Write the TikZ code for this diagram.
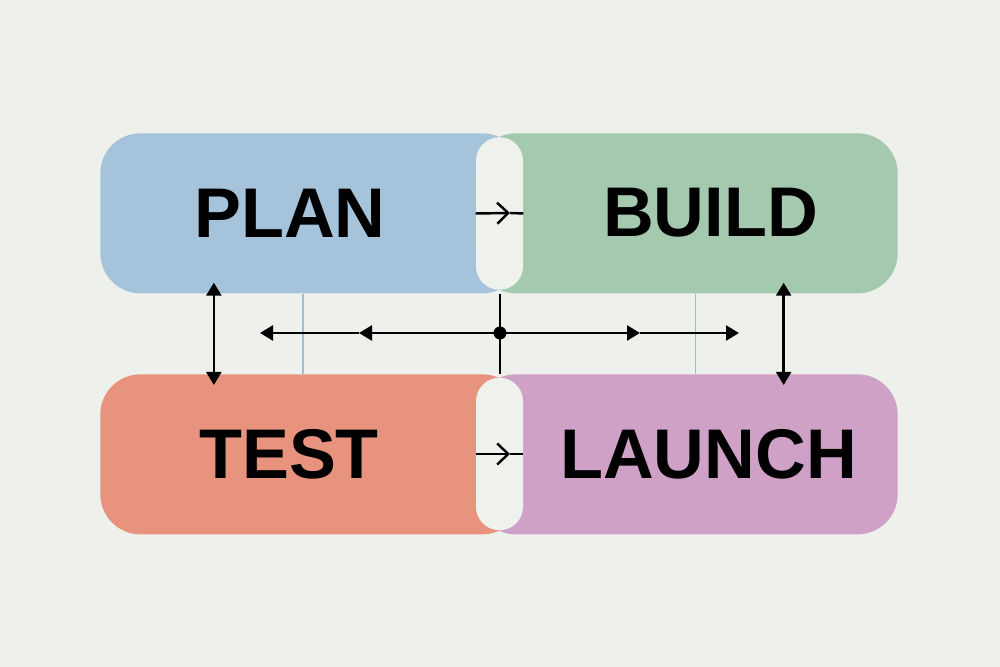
\documentclass[tikz,border=0pt]{standalone}
\usepackage{fontspec}
\usepackage{tikz}
\usetikzlibrary{arrows.meta,positioning}
\newfontfamily\headfont{Liberation Sans}
\definecolor{paper}{RGB}{238,241,235}
\definecolor{gapgray}{RGB}{239,241,236}
\definecolor{planblue}{RGB}{165,196,220}
\definecolor{buildgreen}{RGB}{164,201,175}
\definecolor{testred}{RGB}{232,147,125}
\definecolor{launchpink}{RGB}{207,161,199}
\definecolor{tieblue}{RGB}{158,188,214}

\begin{document}
\begin{tikzpicture}[
box/.style={rectangle, rounded corners=0.8cm, minimum width=8.44cm, minimum height=3.2cm, inner sep=0pt},
gap/.style={rectangle, rounded corners=0.47cm, minimum width=0.94cm, minimum height=3.05cm, inner sep=0pt, fill=gapgray},
title/.style={font=\headfont\bfseries\fontsize{40}{40}\selectfont, inner sep=0pt},
link/.style={line width=1.4pt, black},
tip/.style={-{Triangle[length=0.26cm, width=0.3cm]}},
dual/.style={{Triangle[length=0.26cm, width=0.3cm]}-{Triangle[length=0.26cm, width=0.3cm]}},
tie/.style={line width=0.8pt, tieblue}
]

% Canvas

\fill[paper] (0,0) rectangle (20,13.34);
\useasboundingbox (0,0) rectangle (20,13.34);

% Top row: Plan and Build

\node[box, fill=planblue, anchor=north west] (planbox) at (2,10.68) {};
\node[box, fill=buildgreen, anchor=north east] (buildbox) at (17.96,10.68) {};
\node[gap] (gapA) at (9.99,9.07) {};

% Bottom row: Test and Launch

\node[box, fill=testred, anchor=north west] (testbox) at (2,5.86) {};
\node[box, fill=launchpink, anchor=north east] (launchbox) at (17.96,5.86) {};
\node[gap] (gapB) at (9.99,4.26) {};

% Labels

\node[title] (plan) at (5.8,9.08) {PLAN};
\node[title] (build) at (14.21,9.08) {BUILD};
\node[title] (test) at (5.78,4.26) {TEST};
\node[title] (launch) at (14.17,4.26) {LAUNCH};

% Arrows through the gaps

\coordinate (tipA) at (10.2,9.08);
\coordinate (tipB) at (10.2,4.26);
\draw[link, -{Straight Barb[length=0.22cm, width=0.42cm]}] (gapA.west) -- (tipA);
\draw[link] (tipA) -- (gapA.east);
\draw[link, -{Straight Barb[length=0.22cm, width=0.42cm]}] (gapB.west) -- (tipB);
\draw[link] (tipB) -- (gapB.east);

% Hub between the rows

\coordinate (hub) at (10,6.68);
\coordinate[left=2.82cm of hub] (westmid);
\coordinate[left=4.8cm of hub] (westend);
\coordinate[right=2.8cm of hub] (eastmid);
\coordinate[right=4.78cm of hub] (eastend);

\draw[tie] ([xshift=-0.17cm]planbox.south) -- ([xshift=-0.17cm]testbox.north);
\draw[tie] ([xshift=0.18cm]buildbox.south) -- ([xshift=0.18cm]launchbox.north);

\draw[link] (hub |- planbox.south) -- (hub |- testbox.north);
\draw[link, tip] (hub) -- (westmid);
\draw[link, tip] (westmid) -- (westend);
\draw[link, tip] (hub) -- (eastmid);
\draw[link, tip] (eastmid) -- (eastend);
\fill (hub) circle (0.13);

% Vertical links

\draw[link, dual] ([xshift=-1.95cm, yshift=0.22cm]planbox.south) -- ([xshift=-1.95cm, yshift=-0.22cm]testbox.north);
\draw[link, dual] ([xshift=1.94cm, yshift=0.22cm]buildbox.south) -- ([xshift=1.94cm, yshift=-0.22cm]launchbox.north);

\end{tikzpicture}
\end{document}
